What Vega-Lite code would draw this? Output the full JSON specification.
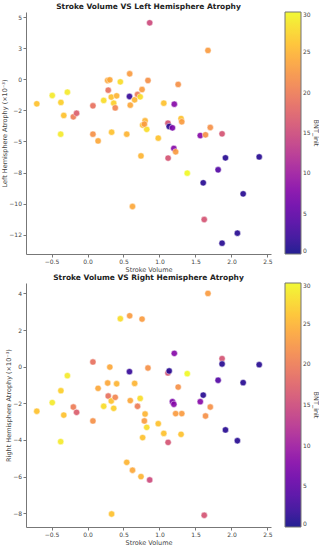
{
  "$schema": "https://vega.github.io/schema/vega-lite/v6.json",
  "padding": {"left": 1, "top": 2, "right": 0, "bottom": 0},
  "background": "white",
  "config": {
    "font": "DejaVu Sans",
    "view": {"stroke": null},
    "axis": {"grid": false, "domainColor": "#777", "tickColor": "#777", "labelColor": "#444", "titleColor": "#444", "labelFontSize": 6, "titleFontSize": 6.5, "titleFontWeight": "normal", "tickSize": 3, "labelPadding": 1.5, "titlePadding": 1.5},
    "title": {"fontSize": 7.5, "fontWeight": "bold", "offset": 2, "color": "#222"},
    "legend": {"labelFontSize": 6, "labelColor": "#444", "titleFontSize": 6.5, "titleFontWeight": "normal", "titleColor": "#444", "labelOffset": 2, "titlePadding": 2, "padding": 0}
  },
  "data": {"values": [
    {"sv": 0.864, "left": 4.57, "right": -6.18, "bnt": 15},
    {"sv": 1.674, "left": 2.34, "right": 4.0, "bnt": 23},
    {"sv": 0.586, "left": 0.46, "right": 2.78, "bnt": 23},
    {"sv": 0.28, "left": -0.08, "right": -0.89, "bnt": 24},
    {"sv": 0.31, "left": -0.03, "right": -0.02, "bnt": 24},
    {"sv": 0.456, "left": -0.19, "right": 2.62, "bnt": 28},
    {"sv": 0.84, "left": -0.08, "right": -0.07, "bnt": 22},
    {"sv": 1.26, "left": -0.4, "right": -1.11, "bnt": 22},
    {"sv": -0.49, "left": -1.29, "right": -1.96, "bnt": 29},
    {"sv": -0.28, "left": -1.02, "right": -0.49, "bnt": 29},
    {"sv": -0.705, "left": -1.96, "right": -2.43, "bnt": 26},
    {"sv": -0.37, "left": -1.85, "right": -1.31, "bnt": 27},
    {"sv": -0.33, "left": -2.9, "right": -2.64, "bnt": 26},
    {"sv": -0.197, "left": -3.01, "right": -2.2, "bnt": 20},
    {"sv": -0.152, "left": -2.72, "right": -2.49, "bnt": 17},
    {"sv": 0.075, "left": -2.12, "right": 0.26, "bnt": 19},
    {"sv": 0.288, "left": -0.86, "right": -1.6, "bnt": 19},
    {"sv": 0.225, "left": -1.69, "right": -2.16, "bnt": 28},
    {"sv": 0.33, "left": -1.42, "right": -1.87, "bnt": 26},
    {"sv": 0.405, "left": -1.32, "right": -0.93, "bnt": 25},
    {"sv": 0.364, "left": -1.91, "right": -2.27, "bnt": 27},
    {"sv": 0.385, "left": -2.29, "right": -1.67, "bnt": 21},
    {"sv": 0.583, "left": -1.37, "right": -0.27, "bnt": 2},
    {"sv": 0.594, "left": -2.07, "right": -1.85, "bnt": 24},
    {"sv": 0.655, "left": -1.64, "right": -0.91, "bnt": 25},
    {"sv": 0.695, "left": -1.21, "right": -2.16, "bnt": 20},
    {"sv": 0.732, "left": -1.4, "right": -1.73, "bnt": 28},
    {"sv": 0.758, "left": -0.81, "right": 2.6, "bnt": 23},
    {"sv": 1.06, "left": -1.91, "right": -3.64, "bnt": 26},
    {"sv": 1.206, "left": -1.99, "right": 0.73, "bnt": 8},
    {"sv": 0.8, "left": -3.33, "right": -2.58, "bnt": 25},
    {"sv": 0.766, "left": -3.68, "right": -3.87, "bnt": 26},
    {"sv": 0.823, "left": -4.02, "right": -3.31, "bnt": 28},
    {"sv": 1.3, "left": -3.15, "right": -3.69, "bnt": 26},
    {"sv": 1.31, "left": -3.41, "right": -2.56, "bnt": 23},
    {"sv": 1.118, "left": -3.52, "right": -0.34, "bnt": 16},
    {"sv": 1.135, "left": -3.79, "right": -0.23, "bnt": 1},
    {"sv": 1.18, "left": -3.9, "right": -1.91, "bnt": 7},
    {"sv": 1.706, "left": -3.87, "right": -2.2, "bnt": 22},
    {"sv": 1.87, "left": -4.38, "right": 0.44, "bnt": 16},
    {"sv": 1.567, "left": -4.52, "right": -1.91, "bnt": 8},
    {"sv": 1.64, "left": -4.46, "right": -2.69, "bnt": 22},
    {"sv": -0.373, "left": -4.41, "right": -4.09, "bnt": 29},
    {"sv": 0.075, "left": -4.41, "right": -2.96, "bnt": 22},
    {"sv": 0.335, "left": -4.25, "right": -8.04, "bnt": 26},
    {"sv": 0.545, "left": -4.41, "right": -5.22, "bnt": 25},
    {"sv": 0.147, "left": -4.95, "right": -1.18, "bnt": 24},
    {"sv": 0.983, "left": -4.73, "right": -3.11, "bnt": 26},
    {"sv": 0.743, "left": -6.16, "right": -6.0, "bnt": 25},
    {"sv": 1.12, "left": -6.34, "right": -4.13, "bnt": 16},
    {"sv": 1.2, "left": -5.56, "right": -2.05, "bnt": 8},
    {"sv": 1.225, "left": -5.83, "right": -2.56, "bnt": 23},
    {"sv": 1.386, "left": -7.55, "right": -0.38, "bnt": 30},
    {"sv": 1.608, "left": -8.33, "right": -1.55, "bnt": 1},
    {"sv": 1.815, "left": -7.28, "right": -0.74, "bnt": 4},
    {"sv": 1.917, "left": -6.32, "right": -3.45, "bnt": 1},
    {"sv": 2.386, "left": -6.24, "right": 0.11, "bnt": 1},
    {"sv": 2.163, "left": -9.22, "right": -0.87, "bnt": 1},
    {"sv": 0.625, "left": -10.24, "right": -5.65, "bnt": 24},
    {"sv": 1.622, "left": -11.29, "right": -8.11, "bnt": 16},
    {"sv": 2.083, "left": -12.39, "right": -4.04, "bnt": 1},
    {"sv": 1.87, "left": -13.2, "right": 0.15, "bnt": 1},
    {"sv": 0.79, "left": -3.6, "right": -2.96, "bnt": 23}
  ]},
  "spacing": 0,
  "resolve": {"scale": {"color": "independent"}, "legend": {"color": "independent"}},
  "vconcat": [
    {
      "title": "Stroke Volume VS Left Hemisphere Atrophy",
      "width": 245,
      "height": 242,
      "mark": {"type": "circle", "size": 40, "opacity": 0.9, "stroke": "white", "strokeWidth": 0.5},
      "encoding": {
        "x": {"field": "sv", "type": "quantitative", "title": "Stroke Volume",
              "scale": {"domain": [-0.855, 2.55], "nice": false, "zero": false},
              "axis": {"values": [-0.5, 0, 0.5, 1, 1.5, 2, 2.5], "format": ".1f"}},
        "y": {"field": "left", "type": "quantitative", "title": "Left Hemisphere Atrophy (×10⁻³)",
              "scale": {"domain": [-14.07, 5.44], "nice": false, "zero": false},
              "axis": {"values": [5, 2.5, 0, -2.5, -5, -7.5, -10, -12.5],
                       "labelExpr": "datum.value == 5 ? '5' : datum.value == 2.5 ? '3' : datum.value == 0 ? '0' : datum.value == -2.5 ? '−2' : datum.value == -5 ? '−5' : datum.value == -7.5 ? '−8' : datum.value == -10 ? '−10' : '−12'"}},
        "color": {"field": "bnt", "type": "quantitative",
                  "scale": {"scheme": "plasma", "domain": [0, 30]},
                  "legend": {"title": "BNT_init", "orient": "right", "offset": 14, "gradientLength": 242, "gradientThickness": 16,
                             "titleOrient": "right", "titleAngle": 270, "titleAnchor": "middle", "values": [0, 5, 10, 15, 20, 25, 30],
                             "gradientStrokeColor": "#666", "gradientStrokeWidth": 1}}
      }
    },
    {
      "title": "Stroke Volume VS Right Hemisphere Atrophy",
      "width": 245,
      "height": 244,
      "mark": {"type": "circle", "size": 40, "opacity": 0.9, "stroke": "white", "strokeWidth": 0.5},
      "encoding": {
        "x": {"field": "sv", "type": "quantitative", "title": "Stroke Volume",
              "scale": {"domain": [-0.855, 2.55], "nice": false, "zero": false},
              "axis": {"values": [-0.5, 0, 0.5, 1, 1.5, 2, 2.5], "format": ".1f"}},
        "y": {"field": "right", "type": "quantitative", "title": "Right Hemisphere Atrophy (×10⁻³)",
              "scale": {"domain": [-8.75, 4.57], "nice": false, "zero": false},
              "axis": {"values": [4, 2, 0, -2, -4, -6, -8]}},
        "color": {"field": "bnt", "type": "quantitative",
                  "scale": {"scheme": "plasma", "domain": [0, 30]},
                  "legend": {"title": "BNT_init", "orient": "right", "offset": 14, "gradientLength": 244, "gradientThickness": 16,
                             "titleOrient": "right", "titleAngle": 270, "titleAnchor": "middle", "values": [0, 5, 10, 15, 20, 25, 30],
                             "gradientStrokeColor": "#666", "gradientStrokeWidth": 1}}
      }
    }
  ]
}
